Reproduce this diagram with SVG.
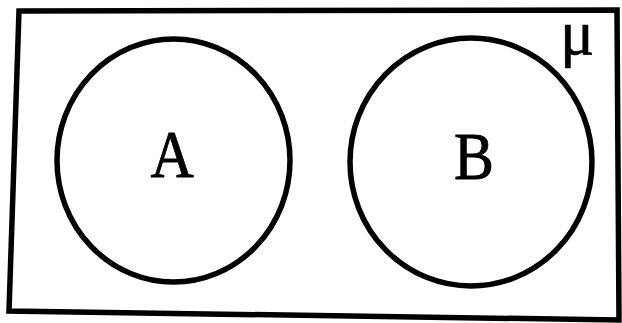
<svg xmlns="http://www.w3.org/2000/svg" width="622" height="323" viewBox="0 0 622 323">
<style>
.ln{fill:none;stroke:#000;stroke-width:5.5;stroke-linejoin:miter}
.lbl{font-family:"Liberation Serif",serif;font-size:68px;fill:#000;stroke:#000;stroke-width:0.8;text-anchor:middle}
.mu{font-family:"Liberation Serif",serif;font-size:64px;fill:#000;stroke:#000;stroke-width:0.6}
</style>
<rect width="622" height="323" fill="#fff"/>
<g id="universe">
<polygon class="ln" points="19,11 617,10 619,320 9,311"/>
<text class="mu" x="560" y="54">μ</text>
</g>
<g id="setA">
<ellipse class="ln" cx="173.5" cy="160.5" rx="116.5" ry="121.5"/>
<text class="lbl" transform="translate(172,177) scale(0.88,1)">A</text>
</g>
<g id="setB">
<ellipse class="ln" cx="471" cy="162" rx="121" ry="124"/>
<text class="lbl" transform="translate(474,179) scale(0.88,1)">B</text>
</g>
<g id="connectors"></g>
</svg>
